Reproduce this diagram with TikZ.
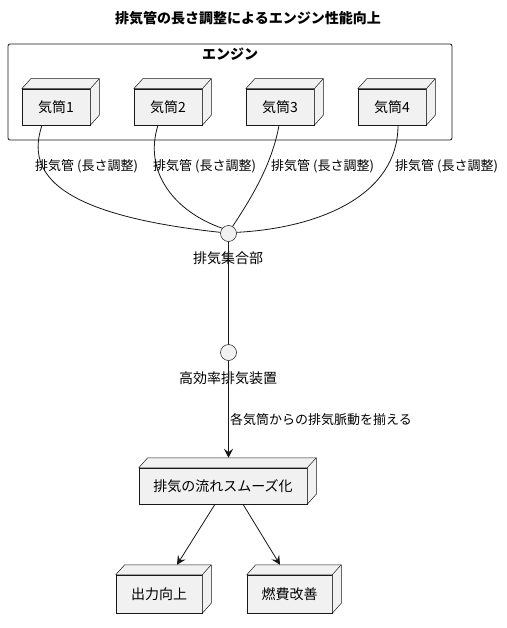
\documentclass[tikz,border=0pt]{standalone}
\usepackage{fontspec}
\setmainfont{Noto Sans CJK JP}
\usetikzlibrary{arrows.meta,calc}
\definecolor{nfill}{HTML}{F1F1F1}
\definecolor{nline}{HTML}{181818}
\begin{document}
\begin{tikzpicture}[x=1pt,y=-1pt,
  txt/.style={font=\fontsize{13}{15}\selectfont, inner sep=0pt},
  bigtxt/.style={font=\fontsize{14}{16}\selectfont, inner sep=0pt},
  cube/.style={draw=nline, fill=nfill, line width=0.5pt, inner sep=0pt, font=\fontsize{14}{16}\selectfont},
  cubeside/.style={draw=nline, fill=nfill, line width=0.5pt, line join=round},
  junc/.style={circle, draw=nline, fill=nfill, line width=0.5pt, minimum size=16pt, inner sep=0pt},
  conn/.style={draw=nline, line width=0.8pt},
  arr/.style={conn, -{Stealth[length=9pt,width=9pt,inset=3.5pt]}}]
\useasboundingbox (0,0) rectangle (506,628);
\fill[white] (0,0) rectangle (506,628);
% title
\node[txt, font=\fontsize{14}{16}\selectfont\bfseries] (title) at (248,18) {排気管の長さ調整によるエンジン性能向上};
% frame
\draw[nline, line width=0.8pt, rounded corners=2pt] (8,44) rectangle (452,140);
\node[txt, font=\fontsize{14}{16}\selectfont\bfseries] (eng) at (230,54) {エンジン};
% cylinders
\node[cube, minimum width=68pt, minimum height=36pt] (c1) at (56,107) {気筒1};
\node[cube, minimum width=68pt, minimum height=36pt] (c2) at (168,107) {気筒2};
\node[cube, minimum width=68pt, minimum height=36pt] (c3) at (280,107) {気筒3};
\node[cube, minimum width=68pt, minimum height=36pt] (c4) at (392,107) {気筒4};
% junctions
\node[junc] (j) at (228.5,233.5) {};
\node[bigtxt] (jl) at (228,258) {排気集合部};
\node[junc] (k) at (228.5,352.5) {};
\node[bigtxt] (kl) at (228,378) {高効率排気装置};
% smooth node
\node[cube, minimum width=168pt, minimum height=36pt] (s) at (223,486) {排気の流れスムーズ化};
\node[cube, minimum width=86pt, minimum height=38pt] (o) at (159,594) {出力向上};
\node[cube, minimum width=85pt, minimum height=38pt] (f) at (289.5,594) {燃費改善};
% cube sides
\foreach \n in {c1,c2,c3,c4,s,o,f}{
  \filldraw[cubeside] (\n.north west) -- ([shift={(9,-10)}]\n.north west) -- ([shift={(9,-10)}]\n.north east) -- ([shift={(9,-10)}]\n.south east) -- (\n.south east) -- (\n.north east) -- cycle;
  \draw[cubeside] (\n.north east) -- ([shift={(9,-10)}]\n.north east);
}
% exhaust pipes
\draw[conn] ([xshift=-14pt]c1.south) .. controls (25,175) and (60,215) .. (j.172);
\draw[conn] ([xshift=-10pt]c2.south) .. controls (143,172) and (175,212) .. (j.140);
\draw[conn] ([xshift=-1pt]c3.south) .. controls (272,165) and (250,200) .. (j.60);
\draw[conn] ([xshift=6pt]c4.south) .. controls (398,195) and (320,228) .. (j.8);
\node[txt, anchor=west] (l1) at (35,166) {排気管 (長さ調整)};
\node[txt, anchor=west] (l2) at (153,166) {排気管 (長さ調整)};
\node[txt, anchor=west] (l3) at (271,166) {排気管 (長さ調整)};
\node[txt, anchor=west] (l4) at (395,166) {排気管 (長さ調整)};
% trunk
\draw[conn] (j) -- (k);
\coordinate (stop) at ([shift={(5.5,-10)}]s.north);
\draw[arr] (k) -- (stop);
\node[txt, anchor=west] (al) at (230,420) {各気筒からの排気脈動を揃える};
% outputs
\coordinate (otop) at ([shift={(18,-10)}]o.north);
\coordinate (ftop) at ([shift={(-9.5,-10)}]f.north);
\draw[arr] ([xshift=-8pt]s.south) -- (otop);
\draw[arr] ([xshift=20pt]s.south) -- (ftop);
\end{tikzpicture}
\end{document}
